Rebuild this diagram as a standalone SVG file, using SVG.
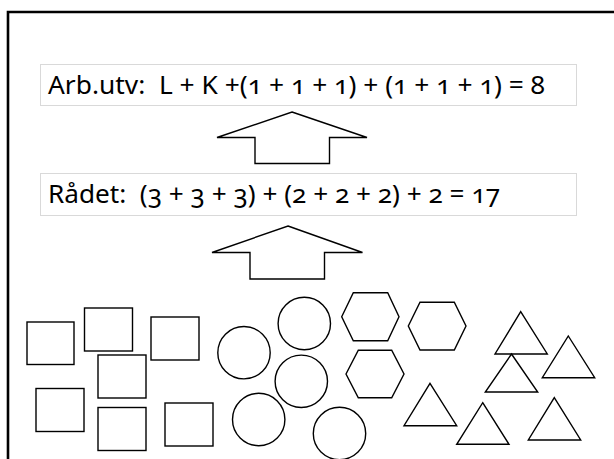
<svg xmlns="http://www.w3.org/2000/svg" width="614" height="459" viewBox="0 0 614 459">
  <style>
    .frame { fill: none; stroke: #000; stroke-width: 2.6; }
    .box { fill: #fff; stroke: #d9d9d9; stroke-width: 1; }
    .label { font-family: "Noto Sans", "Open Sans", sans-serif; font-size: 25px; fill: #000; white-space: pre; font-variant-numeric: oldstyle-nums; font-feature-settings: "onum" 1; }
    .shape { fill: #fff; stroke: #000; stroke-width: 1.4; stroke-linejoin: miter; }
  </style>

  <rect width="614" height="459" fill="#fff"/>

  <!-- slide frame (open at right and bottom) -->
  <path class="frame" d="M8,459 V12 H614"/>

  <!-- formula boxes -->
  <g id="arbutv">
    <rect class="box" x="40.5" y="64.5" width="536" height="41"/>
    <text class="label" xml:space="preserve" x="48" y="94" textLength="497" lengthAdjust="spacingAndGlyphs">Arb.utv:  L + K +(1 + 1 + 1) + (1 + 1 + 1) = 8</text>
  </g>
  <g id="radet">
    <rect class="box" x="40.5" y="173.5" width="536" height="42"/>
    <text class="label" xml:space="preserve" x="48" y="203" textLength="452" lengthAdjust="spacingAndGlyphs">Rådet:  (3 + 3 + 3) + (2 + 2 + 2) + 2 = 17</text>
  </g>

  <!-- block arrows pointing upward -->
  <g id="connectors">
    <polygon class="shape" points="292,112 367,137.5 329.5,137.5 329.5,163.5 255,163.5 255,137.5 217,137.5"/>
    <polygon class="shape" points="288,226 362.5,252.5 324.5,252.5 324.5,279 250,279 250,252.5 212,252.5"/>
  </g>

  <!-- squares -->
  <g id="squares">
    <rect class="shape" x="27" y="322" width="47" height="42.5"/>
    <rect class="shape" x="84.5" y="308" width="48" height="43"/>
    <rect class="shape" x="151" y="317" width="48" height="43"/>
    <rect class="shape" x="98" y="355" width="48" height="43"/>
    <rect class="shape" x="36" y="388.5" width="48" height="43"/>
    <rect class="shape" x="98" y="407.5" width="48" height="43"/>
    <rect class="shape" x="165" y="403" width="48" height="43"/>
  </g>

  <!-- circles -->
  <g id="circles">
    <circle class="shape" cx="244" cy="352.7" r="26.2"/>
    <circle class="shape" cx="304.3" cy="323.5" r="26.2"/>
    <circle class="shape" cx="301.3" cy="381.3" r="26.2"/>
    <circle class="shape" cx="258.7" cy="419.5" r="26.2"/>
    <circle class="shape" cx="339.5" cy="433.5" r="26.2"/>
  </g>

  <!-- hexagons -->
  <g id="hexagons">
    <polygon class="shape" points="341.7,316.7 353.3,292.7 387.7,292.7 399,316.7 387.7,340.7 353.3,340.7"/>
    <polygon class="shape" points="408.3,326 420,302.3 454.3,302.3 466,326 454.3,350 420,350"/>
    <polygon class="shape" points="346,374 358.3,350.2 391.7,350.2 404,374 391.7,397.7 358.3,397.7"/>
  </g>

  <!-- triangles -->
  <g id="triangles">
    <polygon class="shape" points="520.7,311.7 547.3,354 495,354"/>
    <polygon class="shape" points="568.3,336 594.7,377.7 542.3,377.7"/>
    <polygon class="shape" points="511.5,354 537.7,392 485.3,392"/>
    <polygon class="shape" points="430,383.3 456.7,425.7 404,425.7"/>
    <polygon class="shape" points="482.7,402.7 509,444.3 456.7,444.3"/>
    <polygon class="shape" points="554.3,397.7 580.7,440 528.3,440"/>
  </g>
</svg>
